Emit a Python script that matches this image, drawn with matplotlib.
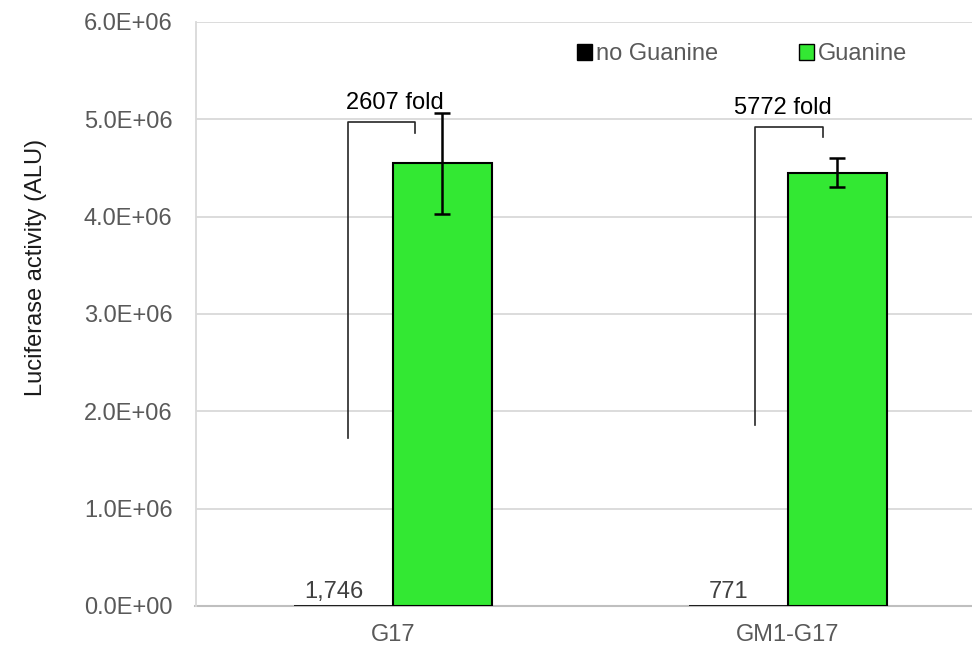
import matplotlib
matplotlib.use("Agg")
import matplotlib.pyplot as plt
import numpy as np
from matplotlib.patches import Patch
from matplotlib.ticker import FuncFormatter

plt.rcParams['font.family'] = ['Liberation Sans', 'DejaVu Sans']

# ---- data ----
categories = ["G17", "GM1-G17"]
series_names = ["no Guanine", "Guanine"]
no_guanine = [1746, 771]
guanine = [4.55e6, 4.45e6]
guanine_err = [0.52e6, 0.15e6]
no_guanine_labels = ["1,746", "771"]
fold_labels = ["2607 fold", "5772 fold"]
# bracket geometry (data units): x offsets rel. to category, y values
bracket_x = [(-0.114, 0.056), (-0.084, 0.089)]
bracket_y = [(1.73e6, 4.97e6, 4.86e6), (1.86e6, 4.92e6, 4.82e6)]
fold_text_pos = [(0.005, 5.17e6), (-0.013, 5.12e6)]
yticks = [0, 1e6, 2e6, 3e6, 4e6, 5e6, 6e6]

FS = 17
W, H = 972, 646
fig = plt.figure(figsize=(W / 100, H / 100), dpi=100)
left, right, bottom, top = 195.5, 985.5, 606, 22
ax = fig.add_axes([left / W, 1 - bottom / H, (right - left) / W, (bottom - top) / H])

x = np.arange(len(categories))
bw = 0.25
green = '#33E833'
ax.bar(x - bw / 2, no_guanine, width=bw, color='black', edgecolor='black', linewidth=1.2, zorder=3)
ax.bar(x + bw / 2, guanine, width=bw, color=green, edgecolor='black', linewidth=1.5, zorder=3,
       yerr=guanine_err, error_kw=dict(ecolor='black', elinewidth=1.8, capsize=6, capthick=1.8))

ax.set_xlim(-0.5, 1.5)
ax.set_ylim(0, 6e6)
ax.set_yticks(yticks)
ax.yaxis.set_major_formatter(FuncFormatter(lambda v, p: f"{v:.1E}"))
ax.set_xticks(x)
ax.set_xticklabels(categories)
ax.tick_params(axis='both', length=0, labelsize=FS, labelcolor='#595959')
ax.tick_params(axis='y', pad=16.5)
ax.tick_params(axis='x', pad=13)
ax.grid(axis='y', color='#d9d9d9', linewidth=1.3, zorder=0)
ax.set_axisbelow(True)
for s in ['top', 'right']:
    ax.spines[s].set_visible(False)
ax.spines['left'].set_color('#d9d9d9')
ax.spines['left'].set_linewidth(1.3)
ax.spines['bottom'].set_color('#bfbfbf')
ax.spines['bottom'].set_linewidth(1.5)
ax.spines['bottom'].set_zorder(2)

ax.set_ylabel("Luciferase activity (ALU)", fontsize=FS, color='#1a1a1a')
ax.yaxis.set_label_coords(47 / W, 1 - 267 / H, transform=fig.transFigure)

# data labels
for i, lab in enumerate(no_guanine_labels):
    ax.annotate(lab, xy=(x[i] - bw / 2, no_guanine[i]), xytext=(-10, 3), textcoords='offset pixels',
                ha='center', va='bottom', fontsize=FS, color='#404040', zorder=5)

# brackets and fold labels
for i in range(len(categories)):
    xl, xr = bracket_x[i]
    yb, yt, ye = bracket_y[i]
    ax.plot([x[i] + xl, x[i] + xl, x[i] + xr, x[i] + xr], [yb, yt, yt, ye],
            color='#262626', linewidth=1.2, zorder=4)
    tx, ty = fold_text_pos[i]
    ax.text(x[i] + tx, ty, fold_labels[i], ha='center', va='center', fontsize=FS,
            color='black', zorder=5)

handles = [Patch(facecolor='black', edgecolor='black', linewidth=1.0),
           Patch(facecolor=green, edgecolor='black', linewidth=1.0)]
fig.legend(handles, series_names, loc='center left', bbox_to_anchor=(577 / W, 1 - 54 / H),
           ncol=2, frameon=False, fontsize=FS, labelcolor='#595959',
           handlelength=0.65, handleheight=0.65, handletextpad=0.17, columnspacing=3.4,
           borderpad=0, borderaxespad=0)

fig.savefig("out.png", dpi=100)
